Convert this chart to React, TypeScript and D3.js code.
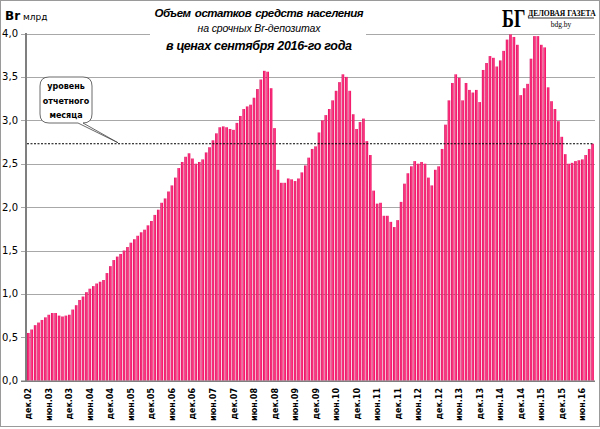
import React, { useEffect, useRef } from 'react';
import * as d3 from 'd3';

// остатки по месяцам, млрд Br (в ценах сентября 2016)
const v2002 = [0.55];
const v2003 = [0.59, 0.64, 0.67, 0.70, 0.73, 0.76, 0.78, 0.78, 0.75, 0.74, 0.75, 0.76];
const v2004 = [0.82, 0.87, 0.93, 0.97, 1.02, 1.06, 1.09, 1.12, 1.14, 1.16, 1.24, 1.32];
const v2005 = [1.39, 1.43, 1.46, 1.50, 1.54, 1.59, 1.63, 1.67, 1.71, 1.74, 1.79, 1.84];
const v2006 = [1.91, 1.97, 2.05, 2.10, 2.18, 2.25, 2.34, 2.45, 2.52, 2.58, 2.62, 2.56];
const v2007 = [2.50, 2.52, 2.55, 2.63, 2.69, 2.77, 2.85, 2.92, 2.93, 2.92, 2.90, 2.89];
const v2008 = [2.97, 3.05, 3.13, 3.16, 3.18, 3.26, 3.36, 3.47, 3.57, 3.56, 3.37, 2.91];
const v2009 = [2.43, 2.28, 2.28, 2.33, 2.32, 2.30, 2.33, 2.40, 2.48, 2.57, 2.67, 2.70];
const v2010 = [2.86, 3.00, 3.06, 3.13, 3.23, 3.34, 3.44, 3.53, 3.50, 3.34, 3.07, 2.90];
const v2011 = [2.98, 3.02, 2.76, 2.60, 2.19, 2.04, 2.05, 1.90, 1.90, 1.83, 1.77, 1.85];
const v2012 = [2.06, 2.27, 2.39, 2.47, 2.53, 2.50, 2.52, 2.50, 2.34, 2.25, 2.43, 2.47];
const v2013 = [2.67, 2.95, 3.23, 3.43, 3.53, 3.49, 3.23, 3.43, 3.35, 3.32, 3.35, 3.21];
const v2014 = [3.58, 3.66, 3.74, 3.72, 3.62, 3.69, 3.80, 3.93, 3.99, 3.96, 3.87, 3.29];
const v2015 = [3.37, 3.42, 3.71, 3.97, 3.97, 3.87, 3.84, 3.38, 3.22, 3.13, 2.99, 2.81];
const v2016 = [2.61, 2.50, 2.51, 2.53, 2.54, 2.55, 2.60, 2.67, 2.73];

const values = [
  ...v2002, ...v2003, ...v2004, ...v2005, ...v2006, ...v2007, ...v2008, ...v2009,
  ...v2010, ...v2011, ...v2012, ...v2013, ...v2014, ...v2015, ...v2016
];

const monthNames = ['янв', 'фев', 'мар', 'апр', 'май', 'июн', 'июл', 'авг', 'сен', 'окт', 'ноя', 'дек'];
const tickMonths = ['июн', 'дек'];
const yTicks = [0, 0.5, 1.0, 1.5, 2.0, 2.5, 3.0, 3.5, 4.0];

// первая точка — декабрь 2002
const categories = values.map((_, i) => {
  const m = (11 + i) % 12;
  const y = 2002 + Math.floor((11 + i) / 12);
  return `${monthNames[m]}.${String(y).slice(2)}`;
});

const W = 600;
const H = 429;

const App: React.FC = () => {
  const svgRef = useRef<SVGSVGElement>(null);

  useEffect(() => {
    if (!svgRef.current) return;
    const svg = d3.select(svgRef.current);
    svg.selectAll('*').remove();

    const x = d3.scaleBand<string>()
      .domain(categories)
      .range([26.6, 594.3])
      .paddingInner(0.24)
      .paddingOuter(0.12);

    const y = d3.scaleLinear().domain([0, 4]).range([380.7, 33.5]);

    const defs = svg.append('defs');
    const grad = defs.append('linearGradient')
      .attr('id', 'barGrad')
      .attr('x1', '0').attr('x2', '1').attr('y1', '0').attr('y2', '0');
    grad.append('stop').attr('offset', '0%').attr('stop-color', '#c8004e');
    grad.append('stop').attr('offset', '40%').attr('stop-color', '#ff3a86');
    grad.append('stop').attr('offset', '100%').attr('stop-color', '#f00c60');

    // рамка
    svg.append('rect')
      .attr('x', 0.5).attr('y', 0.5)
      .attr('width', W - 1).attr('height', 426)
      .attr('fill', '#fff')
      .attr('stroke', '#9a9a9a');

    // сетка
    svg.append('g')
      .selectAll('line')
      .data(yTicks.filter(d => d > 0))
      .enter()
      .append('line')
      .attr('x1', 21).attr('x2', 595)
      .attr('y1', d => Math.round(y(d)) + 0.5)
      .attr('y2', d => Math.round(y(d)) + 0.5)
      .attr('stroke', '#a8a8a8')
      .attr('stroke-width', 1);

    // подписи оси Y
    svg.append('g')
      .selectAll('text')
      .data(yTicks)
      .enter()
      .append('text')
      .attr('x', 18)
      .attr('y', d => y(d) + 3.5)
      .attr('text-anchor', 'end')
      .attr('font-family', 'DejaVu Sans, sans-serif')
      .attr('font-size', 10)
      .attr('fill', '#000')
      .text(d => d3.format('.1f')(d).replace('.', ','));

    // столбики
    svg.append('g')
      .selectAll('rect')
      .data(values)
      .enter()
      .append('rect')
      .attr('x', (_, i) => x(categories[i]) as number)
      .attr('y', d => y(d))
      .attr('width', x.bandwidth())
      .attr('height', d => y(0) - y(d))
      .attr('fill', 'url(#barGrad)');

    // оси
    svg.append('line')
      .attr('x1', 26).attr('x2', 26)
      .attr('y1', 33).attr('y2', 381.5)
      .attr('stroke', '#7f7f7f').attr('stroke-width', 2);
    svg.append('line')
      .attr('x1', 21).attr('x2', 595)
      .attr('y1', 381.2).attr('y2', 381.2)
      .attr('stroke', '#7f7f7f').attr('stroke-width', 1.5);

    // подписи оси X
    svg.append('g')
      .selectAll('text')
      .data(categories.filter(c => tickMonths.includes(c.slice(0, 3))))
      .enter()
      .append('text')
      .attr('transform', d => `translate(${(x(d) as number) + x.bandwidth() / 2 + 3},388) rotate(-90)`)
      .attr('text-anchor', 'end')
      .attr('font-family', 'DejaVu Sans, sans-serif')
      .attr('font-weight', 'bold')
      .attr('font-size', 8)
      .attr('fill', '#000')
      .text(d => d);

    // уровень отчетного месяца
    const last = values[values.length - 1];
    svg.append('line')
      .attr('x1', 27).attr('x2', 594)
      .attr('y1', y(last)).attr('y2', y(last))
      .attr('stroke', '#000')
      .attr('stroke-width', 1)
      .attr('stroke-dasharray', '2,1.5');

    // выноска
    const bx = 40, by = 77, bw = 52, bh = 46, r = 9;
    const tip = [118, y(last) - 1];
    const callout = `M${bx + r},${by} H${bx + bw - r} Q${bx + bw},${by} ${bx + bw},${by + r}
      V${by + bh - r} Q${bx + bw},${by + bh} ${bx + bw - r},${by + bh}
      L${tip[0]},${tip[1]} L${bx + bw - 14},${by + bh}
      H${bx + r} Q${bx},${by + bh} ${bx},${by + bh - r}
      V${by + r} Q${bx},${by} ${bx + r},${by} Z`;
    svg.append('path')
      .attr('d', callout)
      .attr('fill', '#fff')
      .attr('stroke', '#444')
      .attr('stroke-width', 0.8);
    const calloutLines = ['уровень', 'отчетного', 'месяца'];
    svg.append('g')
      .selectAll('text')
      .data(calloutLines)
      .enter()
      .append('text')
      .attr('x', bx + bw / 2)
      .attr('y', (_, i) => by + 12 + i * 14.5)
      .attr('text-anchor', 'middle')
      .attr('font-family', 'DejaVu Sans, sans-serif')
      .attr('font-weight', 'bold')
      .attr('font-size', 8)
      .attr('fill', '#000')
      .text(d => d);

    // заголовок
    svg.append('rect')
      .attr('x', 150).attr('y', 2)
      .attr('width', 216).attr('height', 54)
      .attr('fill', '#fff');
    const title = svg.append('g')
      .attr('font-family', 'Liberation Sans, Arial, sans-serif')
      .attr('font-style', 'italic')
      .attr('text-anchor', 'middle')
      .attr('fill', '#000');
    title.append('text')
      .attr('x', 259).attr('y', 17)
      .attr('font-weight', 'bold').attr('font-size', 11.5)
      .attr('word-spacing', 1.5)
      .attr('textLength', 209)
      .text('Объем остатков средств населения');
    title.append('text')
      .attr('x', 259).attr('y', 32)
      .attr('font-size', 10.5)
      .attr('textLength', 123)
      .text('на срочных Br-депозитах');
    title.append('text')
      .attr('x', 259).attr('y', 50)
      .attr('font-weight', 'bold').attr('font-size', 12.5)
      .attr('textLength', 186)
      .text('в ценах сентября 2016-го года');

    // единицы
    const unit = svg.append('text')
      .attr('x', 5).attr('y', 20)
      .attr('font-family', 'DejaVu Sans, sans-serif')
      .attr('fill', '#000');
    unit.append('tspan').attr('font-weight', 'bold').attr('font-size', 12).text('Br');
    unit.append('tspan').attr('font-size', 9).attr('dx', 3).text('млрд');

    // логотип
    const logo = svg.append('g').attr('font-family', 'Liberation Serif, serif').attr('fill', '#000');
    logo.append('text')
      .attr('transform', 'translate(502,27) scale(0.72,1)')
      .attr('font-weight', 'bold').attr('font-size', 25)
      .text('БГ');
    logo.append('text')
      .attr('x', 528).attr('y', 16)
      .attr('font-weight', 'bold').attr('font-size', 7.6)
      .text('ДЕЛОВАЯ ГАЗЕТА');
    logo.append('line')
      .attr('x1', 528).attr('x2', 594).attr('y1', 18).attr('y2', 18)
      .attr('stroke', '#000').attr('stroke-width', 0.8);
    logo.append('text')
      .attr('x', 561).attr('y', 27)
      .attr('text-anchor', 'middle')
      .attr('font-size', 7.5)
      .text('bdg.by');
  }, []);

  return (
    <svg
      ref={svgRef}
      width={W}
      height={H}
      style={{ position: 'absolute', left: 0, top: 0, background: '#fff' }}
    />
  );
};

export default App;
